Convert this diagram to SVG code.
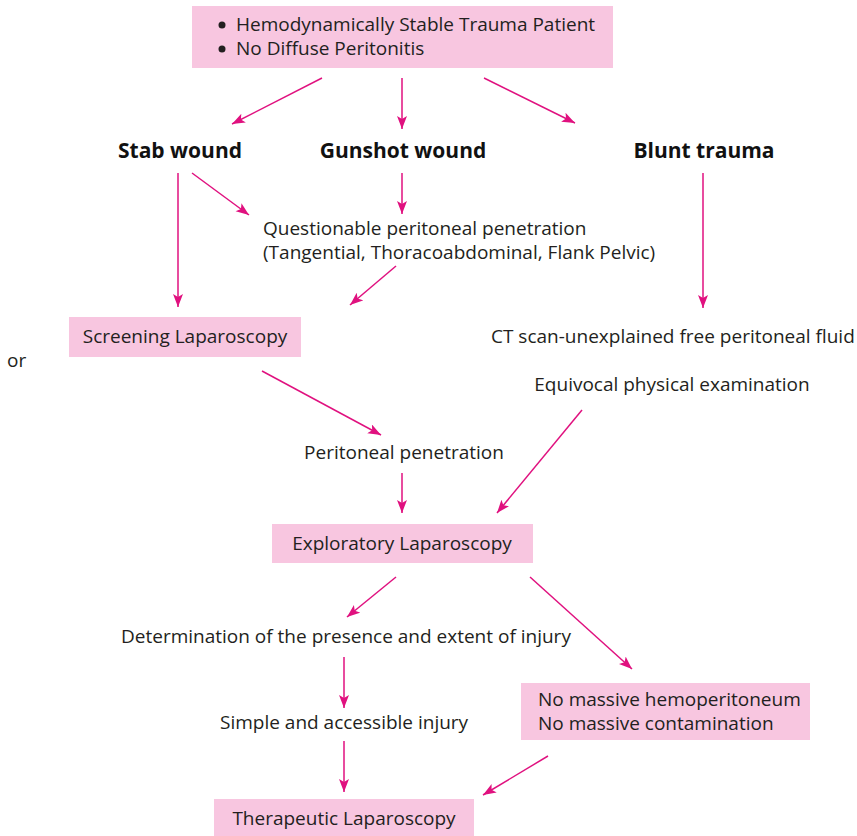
<svg xmlns="http://www.w3.org/2000/svg" width="857" height="836" viewBox="0 0 857 836">
<style>
.box{fill:#f8c6e0}
.t{font-family:"Open Sans","Noto Sans",sans-serif;font-size:19px;fill:#231f20}
.b{font-family:"Open Sans","Noto Sans",sans-serif;font-size:21px;font-weight:bold;fill:#111}
.c{text-anchor:middle}
.ar{stroke:#e0117f;stroke-width:1.5;fill:none;marker-end:url(#ah)}
</style>
<defs>
<marker id="ah" markerUnits="userSpaceOnUse" markerWidth="14" markerHeight="12" refX="13" refY="5" orient="auto">
<path d="M0,0 L13,5 L0,10 L3,5 Z" fill="#e0117f"/>
</marker>
</defs>
<rect width="857" height="836" fill="#fff"/>
<g id="start">
<rect class="box" x="192" y="6" width="421" height="62"/>
<circle cx="222" cy="25" r="3.5" fill="#231f20"/>
<circle cx="222" cy="49" r="3.5" fill="#231f20"/>
<text class="t" x="236" y="31">Hemodynamically Stable Trauma Patient</text>
<text class="t" x="236" y="55">No Diffuse Peritonitis</text>
</g>
<g id="stab"><text class="b c" x="180" y="158">Stab wound</text></g>
<g id="gunshot"><text class="b c" x="403" y="158">Gunshot wound</text></g>
<g id="blunt"><text class="b c" x="704" y="158">Blunt trauma</text></g>
<g id="questionable">
<text class="t" x="263" y="235">Questionable peritoneal penetration</text>
<text class="t" x="263" y="259">(Tangential, Thoracoabdominal, Flank Pelvic)</text>
</g>
<g id="screening">
<rect class="box" x="69" y="317" width="232" height="40"/>
<text class="t c" x="185" y="343">Screening Laparoscopy</text>
</g>
<g id="or"><text class="t" x="7" y="367">or</text></g>
<g id="ct"><text class="t" x="491" y="343">CT scan-unexplained free peritoneal fluid</text></g>
<g id="equivocal"><text class="t c" x="672" y="391">Equivocal physical examination</text></g>
<g id="penetration"><text class="t c" x="404" y="459">Peritoneal penetration</text></g>
<g id="exploratory">
<rect class="box" x="272" y="524" width="261" height="39"/>
<text class="t c" x="402" y="550">Exploratory Laparoscopy</text>
</g>
<g id="determination"><text class="t" x="121" y="643">Determination of the presence and extent of injury</text></g>
<g id="simple"><text class="t" x="220" y="729">Simple and accessible injury</text></g>
<g id="nomassive">
<rect class="box" x="521" y="683" width="289" height="57"/>
<text class="t" x="538" y="706">No massive hemoperitoneum</text>
<text class="t" x="538" y="730">No massive contamination</text>
</g>
<g id="therapeutic">
<rect class="box" x="214" y="799" width="260" height="37"/>
<text class="t c" x="344" y="825">Therapeutic Laparoscopy</text>
</g>
<g id="connectors">
<line class="ar" x1="322" y1="78" x2="232" y2="124"/>
<line class="ar" x1="402" y1="78" x2="402" y2="129"/>
<line class="ar" x1="484" y1="78" x2="575" y2="123"/>
<line class="ar" x1="178" y1="173" x2="178" y2="307"/>
<line class="ar" x1="192" y1="173" x2="249" y2="215"/>
<line class="ar" x1="402" y1="173" x2="402" y2="214"/>
<line class="ar" x1="703" y1="173" x2="703" y2="308"/>
<line class="ar" x1="396" y1="266" x2="350" y2="305"/>
<line class="ar" x1="262" y1="371" x2="381" y2="435"/>
<line class="ar" x1="402" y1="473" x2="402" y2="513"/>
<line class="ar" x1="582" y1="410" x2="497" y2="513"/>
<line class="ar" x1="396" y1="577" x2="347" y2="617"/>
<line class="ar" x1="530" y1="577" x2="632" y2="669"/>
<line class="ar" x1="344" y1="657" x2="344" y2="708"/>
<line class="ar" x1="344" y1="741" x2="344" y2="792"/>
<line class="ar" x1="548" y1="756" x2="483" y2="795"/>
</g>
</svg>
